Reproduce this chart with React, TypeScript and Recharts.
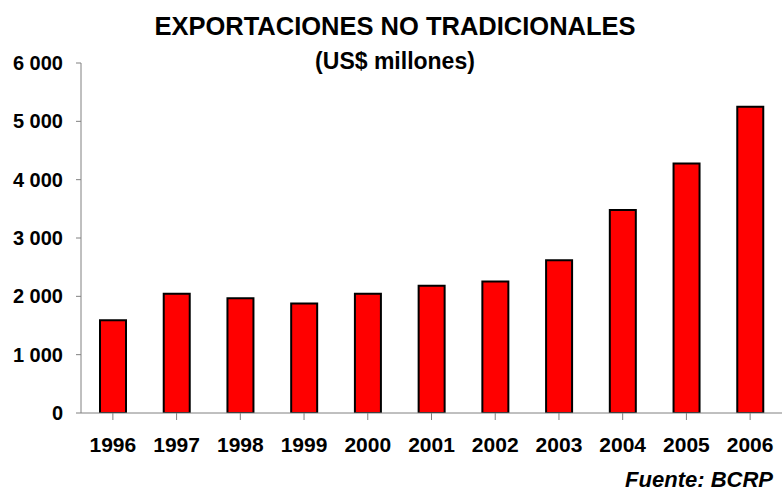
import React from "react";
import { BarChart, Bar, XAxis, YAxis } from "recharts";

const years = ["1996", "1997", "1998", "1999", "2000", "2001", "2002", "2003", "2004", "2005", "2006"];
const exportsValues = [1590, 2046, 1967, 1876, 2044, 2183, 2256, 2620, 3479, 4277, 5250];
const yTicks = [0, 1000, 2000, 3000, 4000, 5000, 6000];

const data = years.map((y, i) => ({ year: y, value: exportsValues[i] }));

const FONT = "'Liberation Sans', Arial, sans-serif";

const fmt = (v: number) => {
  if (v === 0) return "0";
  const s = String(v);
  return s.slice(0, s.length - 3) + " " + s.slice(s.length - 3);
};

export default function App() {
  return (
    <div style={{ position: "absolute", left: 0, top: 0, width: 782, height: 494, background: "#fff", fontFamily: FONT, overflow: "hidden" }}>
      <div style={{ position: "absolute", left: 0, top: 12, width: 790, textAlign: "center", fontWeight: "bold", fontSize: 25.5, lineHeight: "normal", color: "#000", whiteSpace: "nowrap" }}>
        EXPORTACIONES NO TRADICIONALES
      </div>
      <div style={{ position: "absolute", left: 0, top: 48, width: 790, textAlign: "center", fontWeight: "bold", fontSize: 23, lineHeight: "normal", color: "#000", whiteSpace: "nowrap" }}>
        (US$ millones)
      </div>
      <div style={{ position: "absolute", right: 9, top: 467, fontWeight: "bold", fontStyle: "italic", fontSize: 22, lineHeight: "normal", color: "#000", whiteSpace: "nowrap" }}>
        Fuente: BCRP
      </div>
      <BarChart width={782} height={494} data={data} margin={{ top: 63, right: 0, bottom: 51, left: 0 }}>
        <XAxis
          dataKey="year"
          stroke="#808080"
          tickSize={7}
          tickMargin={17}
          tickLine={{ stroke: "#808080" }}
          tick={{ fill: "#000", fontSize: 21, fontWeight: "bold", fontFamily: FONT }}
          interval={0}
        />
        <YAxis
          width={81}
          domain={[0, 6000]}
          ticks={yTicks}
          tickFormatter={fmt}
          stroke="#808080"
          tickSize={5}
          tickMargin={13}
          tick={{ fill: "#000", fontSize: 20, fontWeight: "bold", fontFamily: FONT }}
          allowDataOverflow
        />
        <Bar dataKey="value" fill="#FF0000" stroke="#000" strokeWidth={2} barSize={26} isAnimationActive={false} />
      </BarChart>
    </div>
  );
}
